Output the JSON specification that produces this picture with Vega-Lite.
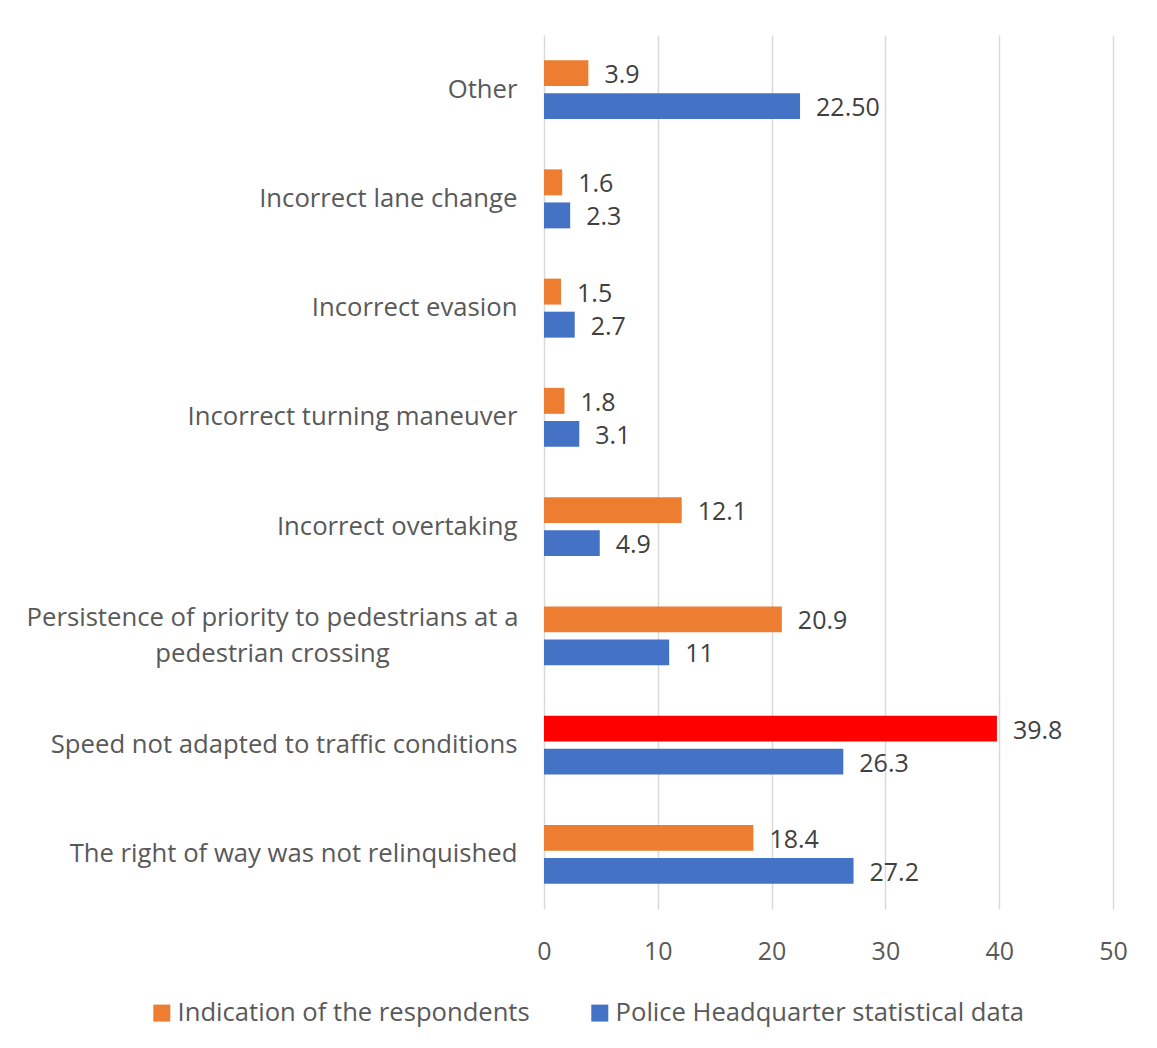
{
  "$schema": "https://vega.github.io/schema/vega-lite/v6.json",
  "width": 569,
  "height": 874,
  "autosize": "none",
  "padding": {"left": 544, "top": 35, "right": 44, "bottom": 139},
  "background": "white",
  "config": {"view": {"stroke": null}, "font": "Open Sans"},
  "data": {
    "values": [
      {"cause": "Other", "series": "Indication of the respondents", "value": 3.9, "label": "3.9"},
      {"cause": "Other", "series": "Police Headquarter statistical data", "value": 22.5, "label": "22.50"},
      {"cause": "Incorrect lane change", "series": "Indication of the respondents", "value": 1.6, "label": "1.6"},
      {"cause": "Incorrect lane change", "series": "Police Headquarter statistical data", "value": 2.3, "label": "2.3"},
      {"cause": "Incorrect evasion", "series": "Indication of the respondents", "value": 1.5, "label": "1.5"},
      {"cause": "Incorrect evasion", "series": "Police Headquarter statistical data", "value": 2.7, "label": "2.7"},
      {"cause": "Incorrect turning maneuver", "series": "Indication of the respondents", "value": 1.8, "label": "1.8"},
      {"cause": "Incorrect turning maneuver", "series": "Police Headquarter statistical data", "value": 3.1, "label": "3.1"},
      {"cause": "Incorrect overtaking", "series": "Indication of the respondents", "value": 12.1, "label": "12.1"},
      {"cause": "Incorrect overtaking", "series": "Police Headquarter statistical data", "value": 4.9, "label": "4.9"},
      {"cause": "Persistence of priority to pedestrians at a pedestrian crossing", "series": "Indication of the respondents", "value": 20.9, "label": "20.9"},
      {"cause": "Persistence of priority to pedestrians at a pedestrian crossing", "series": "Police Headquarter statistical data", "value": 11, "label": "11"},
      {"cause": "Speed not adapted to traffic conditions", "series": "Indication of the respondents", "value": 39.8, "label": "39.8"},
      {"cause": "Speed not adapted to traffic conditions", "series": "Police Headquarter statistical data", "value": 26.3, "label": "26.3"},
      {"cause": "The right of way was not relinquished", "series": "Indication of the respondents", "value": 18.4, "label": "18.4"},
      {"cause": "The right of way was not relinquished", "series": "Police Headquarter statistical data", "value": 27.2, "label": "27.2"}
    ]
  },
  "encoding": {
    "y": {
      "field": "cause",
      "type": "nominal",
      "sort": ["Other", "Incorrect lane change", "Incorrect evasion", "Incorrect turning maneuver", "Incorrect overtaking", "Persistence of priority to pedestrians at a pedestrian crossing", "Speed not adapted to traffic conditions", "The right of way was not relinquished"],
      "scale": {"paddingInner": 0.46, "paddingOuter": 0.23},
      "axis": {
        "title": null,
        "domain": false,
        "ticks": false,
        "labelPadding": {"condition": {"test": "datum.value == 'Persistence of priority to pedestrians at a pedestrian crossing'", "value": 272}, "value": 27},
        "labelAlign": {"condition": {"test": "datum.value == 'Persistence of priority to pedestrians at a pedestrian crossing'", "value": "center"}, "value": "right"},
        "labelFontSize": 25.7,
        "labelColor": "#595959",
        "labelLimit": 600,
        "labelLineHeight": 36,
        "labelOffset": {"condition": {"test": "datum.value == 'Persistence of priority to pedestrians at a pedestrian crossing'", "value": -18}, "value": 0},
        "labelExpr": "datum.value == 'Persistence of priority to pedestrians at a pedestrian crossing' ? ['Persistence of priority to pedestrians at a', 'pedestrian crossing'] : datum.value"
      }
    },
    "yOffset": {
      "field": "series",
      "type": "nominal",
      "sort": ["Indication of the respondents", "Police Headquarter statistical data"],
      "scale": {"paddingInner": 0.215, "paddingOuter": 0}
    },
    "x": {
      "field": "value",
      "type": "quantitative",
      "scale": {"domain": [0, 50], "nice": false},
      "axis": {
        "title": null,
        "values": [0, 10, 20, 30, 40, 50],
        "grid": true,
        "gridColor": "#D9D9D9",
        "gridWidth": 1.5,
        "domain": false,
        "ticks": false,
        "labelFlush": false,
        "labelPadding": 30,
        "labelFontSize": 25,
        "labelColor": "#595959"
      }
    }
  },
  "layer": [
    {
      "mark": {"type": "bar"},
      "encoding": {
        "color": {
          "condition": {"test": "datum.cause == 'Speed not adapted to traffic conditions' && datum.series == 'Indication of the respondents'", "value": "#FF0000"},
          "field": "series",
          "type": "nominal",
          "scale": {"domain": ["Indication of the respondents", "Police Headquarter statistical data"], "range": ["#ED7D31", "#4472C4"]},
          "legend": {
            "title": null,
            "orient": "none",
            "direction": "horizontal",
            "legendX": -395,
            "legendY": 965,
            "symbolType": "square",
            "symbolSize": 289,
            "symbolStrokeWidth": 0,
            "labelFontSize": 25.6,
            "labelColor": "#595959",
            "labelOffset": 3,
            "columnPadding": 57,
            "labelLimit": 600
          }
        }
      }
    },
    {
      "mark": {"type": "text", "align": "left", "baseline": "middle", "dx": 16, "dy": 2, "fontSize": 25, "color": "#404040"},
      "encoding": {"text": {"field": "label"}}
    }
  ]
}
